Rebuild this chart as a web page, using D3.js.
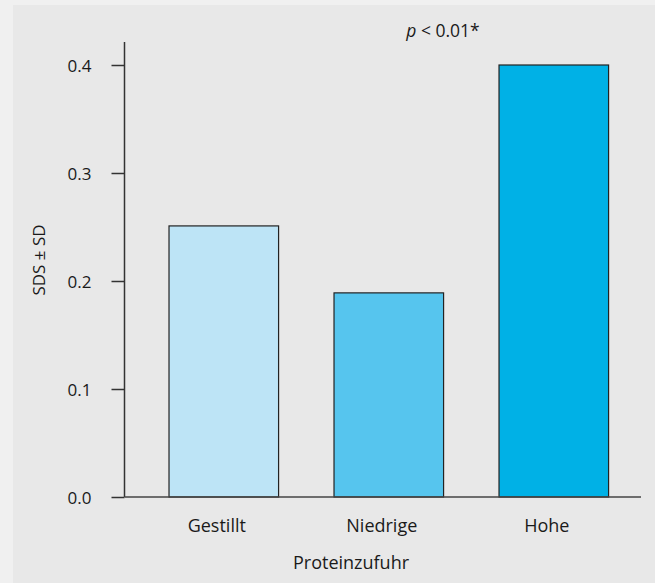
<!DOCTYPE html>
<html>
<head>
<meta charset="utf-8">
<script src="https://cdn.jsdelivr.net/npm/d3@7"></script>
<style>
  html, body { margin: 0; padding: 0; background: #f0f0f0; }
  svg { display: block; }
  text { font-family: "Open Sans", "Noto Sans", sans-serif; fill: #1a1a1a; }
</style>
</head>
<body>
<svg id="chart" width="655" height="583"></svg>
<script>
const categories = ["Gestillt", "Niedrige", "Hohe"];
const values = [0.251, 0.189, 0.400];
const barColors = ["#bde4f6", "#56c5ee", "#00b1e6"];
const yTicks = [0.0, 0.1, 0.2, 0.3, 0.4];
const yLabel = "SDS ± SD";
const xLabel = "Proteinzufuhr";

const svg = d3.select("#chart");
svg.append("rect").attr("x", 13).attr("y", 5).attr("width", 642).attr("height", 578).attr("fill", "#e8e8e8");

const axisX0 = 124.5, axisX1 = 641;
const y = d3.scaleLinear().domain([0, 0.4]).range([497, 65]);
const x = d3.scaleBand().domain(categories).range([141.3, 636.3]).paddingInner(0.336).paddingOuter(0.168);

// Bars
svg.append("g").selectAll("rect").data(values).join("rect")
  .attr("x", (d, i) => x(categories[i]))
  .attr("width", x.bandwidth())
  .attr("y", d => y(d))
  .attr("height", d => y(0) - y(d))
  .attr("fill", (d, i) => barColors[i])
  .attr("stroke", "#222")
  .attr("stroke-width", 1.2);

// Y axis
const yAxis = d3.axisLeft(y).tickValues(yTicks).tickFormat(d3.format(".1f")).tickSize(13).tickPadding(20);
const gy = svg.append("g").attr("transform", `translate(${axisX0},0)`).call(yAxis);
gy.select(".domain").remove();
gy.append("line").attr("x1", 0).attr("x2", 0).attr("y1", 42).attr("y2", y(0)).attr("stroke", "#333").attr("stroke-width", 1.5);
gy.selectAll(".tick line").attr("stroke", "#333").attr("stroke-width", 1.5);
gy.selectAll(".tick text").style("font-size", "17px").attr("fill", "#1a1a1a").attr("dy", "0.36em");

// X axis
const xAxis = d3.axisBottom(x).tickSize(0);
const gx = svg.append("g").attr("transform", `translate(0,${y(0)})`).call(xAxis);
gx.select(".domain").remove();
gx.append("line").attr("x1", axisX0).attr("x2", axisX1).attr("y1", 0).attr("y2", 0).attr("stroke", "#444").attr("stroke-width", 1.5);
gx.selectAll(".tick text").style("font-size", "18px").attr("fill", "#1a1a1a").attr("dx", -7).attr("y", 35).attr("dy", 0);

// Axis titles
svg.append("text").attr("x", 351).attr("y", 569).attr("text-anchor", "middle").style("font-size", "18px").text(xLabel);
svg.append("text").attr("transform", "translate(45,260) rotate(-90)").attr("text-anchor", "middle").style("font-size", "17px").text(yLabel);

// Annotation
const ann = svg.append("text").attr("x", 443).attr("y", 37).attr("text-anchor", "middle").style("font-size", "17.5px");
ann.append("tspan").style("font-style", "italic").text("p");
ann.append("tspan").text(" < 0.01*");
</script>
</body>
</html>
